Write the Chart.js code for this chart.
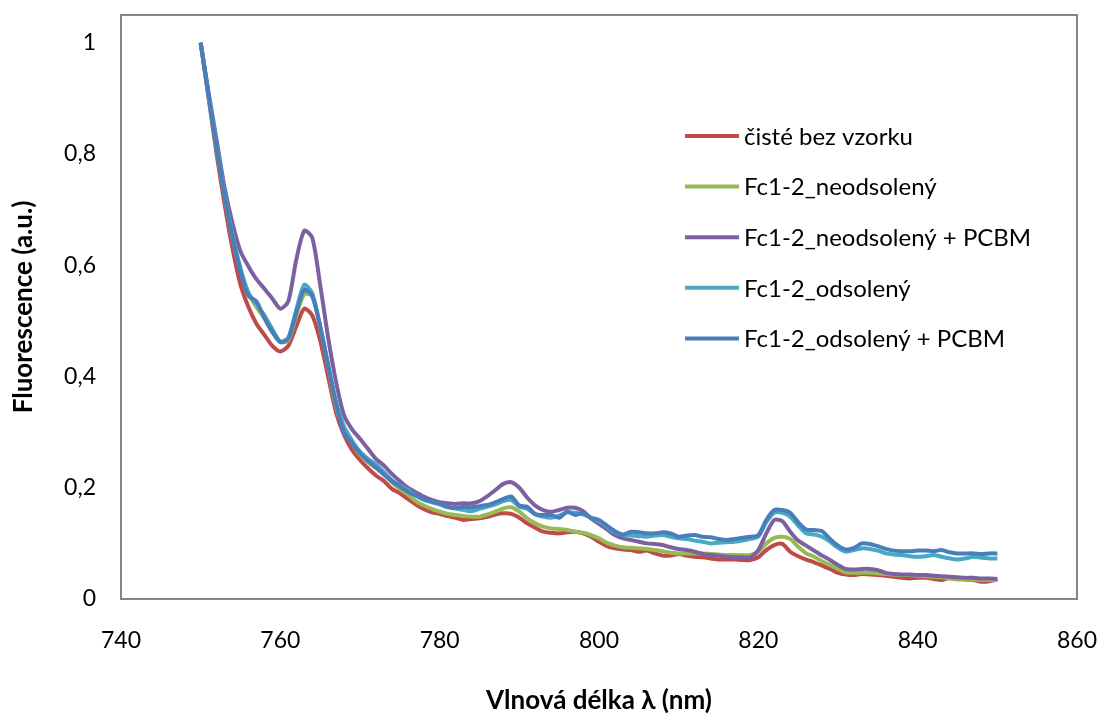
<!DOCTYPE html>
<html>
<head>
<meta charset="utf-8">
<script src="https://cdn.jsdelivr.net/npm/chart.js@4.4.1/dist/chart.umd.min.js"></script>
<style>
html,body{margin:0;padding:0;background:#fff;}
#wrap{width:1100px;height:713px;}
</style>
</head>
<body>
<div id="wrap"><canvas id="c" width="1100" height="713"></canvas></div>
<script>
const wavelengths = [];
for (let w = 750; w <= 850; w++) wavelengths.push(w);

const seriesNames = ["čisté bez vzorku", "Fc1-2_neodsolený", "Fc1-2_neodsolený + PCBM", "Fc1-2_odsolený", "Fc1-2_odsolený + PCBM"];

const cisteBezVzorku = [
1.0,0.90,0.80,0.71,0.63,0.565,0.525,0.495,0.475,0.455,
0.445,0.455,0.49,0.522,0.51,0.465,0.40,0.335,0.295,0.268,
0.25,0.235,0.222,0.212,0.198,0.19,0.18,0.17,0.162,0.156,
0.153,0.149,0.146,0.142,0.144,0.145,0.148,0.152,0.154,0.153,
0.146,0.136,0.128,0.121,0.119,0.118,0.12,0.121,0.118,0.112,
0.103,0.095,0.091,0.089,0.088,0.085,0.087,0.082,0.078,0.078,
0.081,0.078,0.076,0.075,0.073,0.071,0.071,0.071,0.070,0.070,
0.075,0.088,0.097,0.099,0.085,0.077,0.071,0.066,0.060,0.054,
0.047,0.044,0.043,0.045,0.044,0.043,0.042,0.040,0.038,0.037,
0.038,0.038,0.036,0.034,0.038,0.038,0.035,0.034,0.031,0.032,
0.035];

const neodsoleny = [
1.0,0.905,0.81,0.725,0.65,0.59,0.55,0.525,0.505,0.48,
0.462,0.465,0.51,0.548,0.545,0.49,0.42,0.345,0.305,0.28,
0.26,0.246,0.236,0.224,0.21,0.198,0.188,0.176,0.168,0.162,
0.157,0.153,0.151,0.149,0.148,0.148,0.152,0.157,0.163,0.165,
0.157,0.145,0.136,0.130,0.127,0.126,0.124,0.121,0.119,0.115,
0.109,0.101,0.096,0.093,0.092,0.091,0.090,0.088,0.086,0.083,
0.082,0.082,0.082,0.082,0.081,0.080,0.079,0.079,0.079,0.079,
0.085,0.100,0.110,0.112,0.108,0.094,0.082,0.076,0.068,0.061,
0.054,0.048,0.047,0.047,0.047,0.046,0.045,0.044,0.043,0.043,
0.042,0.041,0.040,0.039,0.037,0.035,0.035,0.035,0.034,0.034,
0.034];

const neodsolenyPCBM = [
1.0,0.91,0.825,0.74,0.675,0.625,0.598,0.575,0.558,0.54,
0.522,0.535,0.61,0.662,0.65,0.565,0.47,0.39,0.33,0.305,
0.288,0.27,0.252,0.24,0.225,0.212,0.2,0.192,0.184,0.178,
0.174,0.172,0.171,0.172,0.172,0.176,0.185,0.196,0.207,0.21,
0.2,0.182,0.168,0.16,0.157,0.16,0.164,0.164,0.158,0.145,
0.135,0.125,0.115,0.109,0.106,0.103,0.1,0.099,0.097,0.093,
0.09,0.088,0.085,0.081,0.079,0.078,0.076,0.075,0.075,0.075,
0.088,0.118,0.142,0.14,0.121,0.105,0.096,0.087,0.078,0.07,
0.061,0.054,0.053,0.054,0.054,0.052,0.047,0.045,0.044,0.044,
0.043,0.043,0.042,0.041,0.04,0.039,0.038,0.038,0.037,0.037,
0.036];

const odsoleny = [
1.0,0.905,0.815,0.73,0.655,0.595,0.55,0.53,0.51,0.485,
0.463,0.47,0.52,0.565,0.55,0.49,0.42,0.355,0.31,0.285,
0.265,0.252,0.242,0.228,0.214,0.204,0.196,0.186,0.178,0.174,
0.17,0.165,0.163,0.16,0.158,0.162,0.166,0.17,0.176,0.178,
0.166,0.162,0.152,0.148,0.146,0.15,0.156,0.155,0.152,0.146,
0.14,0.13,0.12,0.115,0.114,0.113,0.112,0.114,0.115,0.112,
0.109,0.108,0.105,0.103,0.1,0.101,0.102,0.103,0.105,0.108,
0.112,0.138,0.155,0.155,0.148,0.132,0.118,0.116,0.112,0.103,
0.092,0.085,0.088,0.091,0.09,0.087,0.082,0.08,0.079,0.077,
0.076,0.077,0.079,0.076,0.073,0.071,0.073,0.076,0.074,0.073,
0.073];

const odsolenyPCBM = [
1.0,0.905,0.81,0.725,0.65,0.588,0.545,0.535,0.505,0.48,
0.462,0.468,0.515,0.556,0.545,0.49,0.42,0.35,0.3,0.28,
0.262,0.248,0.236,0.224,0.212,0.202,0.193,0.186,0.18,0.175,
0.172,0.166,0.163,0.166,0.165,0.167,0.169,0.174,0.18,0.184,
0.168,0.166,0.153,0.151,0.151,0.146,0.157,0.151,0.154,0.146,
0.142,0.132,0.122,0.116,0.121,0.12,0.118,0.118,0.12,0.118,
0.112,0.114,0.115,0.112,0.111,0.108,0.106,0.108,0.11,0.112,
0.115,0.142,0.16,0.16,0.155,0.138,0.125,0.124,0.122,0.108,
0.096,0.089,0.092,0.1,0.099,0.095,0.09,0.087,0.086,0.086,
0.087,0.087,0.086,0.088,0.084,0.082,0.082,0.082,0.081,0.082,
0.082];

const xTicks = [740, 760, 780, 800, 820, 840, 860];
const yTicks = [0, 0.2, 0.4, 0.6, 0.8, 1];

const allSeries = [cisteBezVzorku, neodsoleny, neodsolenyPCBM, odsoleny, odsolenyPCBM];
const colors = ["#BE4B48", "#98B954", "#7D60A0", "#46AAC5", "#4A7EBB"];

const FONT = "Lato, 'Open Sans', sans-serif";

const datasets = allSeries.map((vals, i) => ({
  label: seriesNames[i],
  data: vals.map((v, j) => ({x: wavelengths[j], y: v})),
  borderColor: colors[i],
  backgroundColor: colors[i],
  borderWidth: 4,
  pointRadius: 0,
  tension: 0.25,
  fill: false,
  order: allSeries.length - i
}));

const frame = {
  id: 'frame',
  afterDatasetsDraw(chart) {
    const {ctx, chartArea: a} = chart;
    ctx.save();
    ctx.strokeStyle = '#868686';
    ctx.lineWidth = 2;
    ctx.strokeRect(a.left, a.top, a.right - a.left, a.bottom - a.top);
    ctx.restore();
  }
};

const innerLegend = {
  id: 'innerLegend',
  afterDraw(chart) {
    const ctx = chart.ctx;
    ctx.save();
    ctx.font = "24px " + FONT;
    ctx.textBaseline = 'middle';
    ctx.fillStyle = '#000';
    chart.data.datasets.forEach((ds, i) => {
      const y = 136 + i * 50.6;
      ctx.strokeStyle = ds.borderColor;
      ctx.lineWidth = 4;
      ctx.beginPath();
      ctx.moveTo(685, y);
      ctx.lineTo(739, y);
      ctx.stroke();
      ctx.fillText(ds.label, 744, y + 1);
    });
    ctx.restore();
  }
};

function zeroPad(scale) {
  scale.paddingTop = 0; scale.paddingBottom = 0;
  scale.paddingLeft = 0; scale.paddingRight = 0;
}

new Chart(document.getElementById('c'), {
  type: 'line',
  data: {datasets},
  options: {
    responsive: false,
    devicePixelRatio: 1,
    animation: false,
    layout: {padding: {top: 15, right: 23, left: 0, bottom: 0}},
    plugins: {legend: {display: false}, tooltip: {enabled: false}},
    scales: {
      x: {
        type: 'linear',
        min: 740, max: 860,
        afterBuildTicks(axis) { axis.ticks = xTicks.map(v => ({value: v})); },
        afterFit(scale) { scale.height = 114; zeroPad(scale); },
        grid: {display: false, drawTicks: false},
        border: {display: false},
        ticks: {padding: 28, maxRotation: 0, color: '#000', font: {family: FONT, size: 23}, callback: v => String(v)},
        title: {display: true, text: 'Vlnová délka λ (nm)', color: '#000', font: {family: FONT, size: 26, weight: 'bold'}, padding: {top: 0, bottom: -3}}
      },
      y: {
        min: 0, max: 1.05,
        afterBuildTicks(axis) { axis.ticks = yTicks.map(v => ({value: v})); },
        afterFit(scale) { scale.width = 121; zeroPad(scale); },
        grid: {display: false, drawTicks: false},
        border: {display: false},
        ticks: {padding: 25, color: '#000', font: {family: FONT, size: 23}, callback: v => String(Math.round(v * 10) / 10).replace('.', ',')},
        title: {display: true, text: 'Fluorescence (a.u.)', color: '#000', font: {family: FONT, size: 26, weight: 'bold'}, padding: {top: 8, bottom: 0}}
      }
    }
  },
  plugins: [frame, innerLegend]
});
</script>
</body>
</html>
